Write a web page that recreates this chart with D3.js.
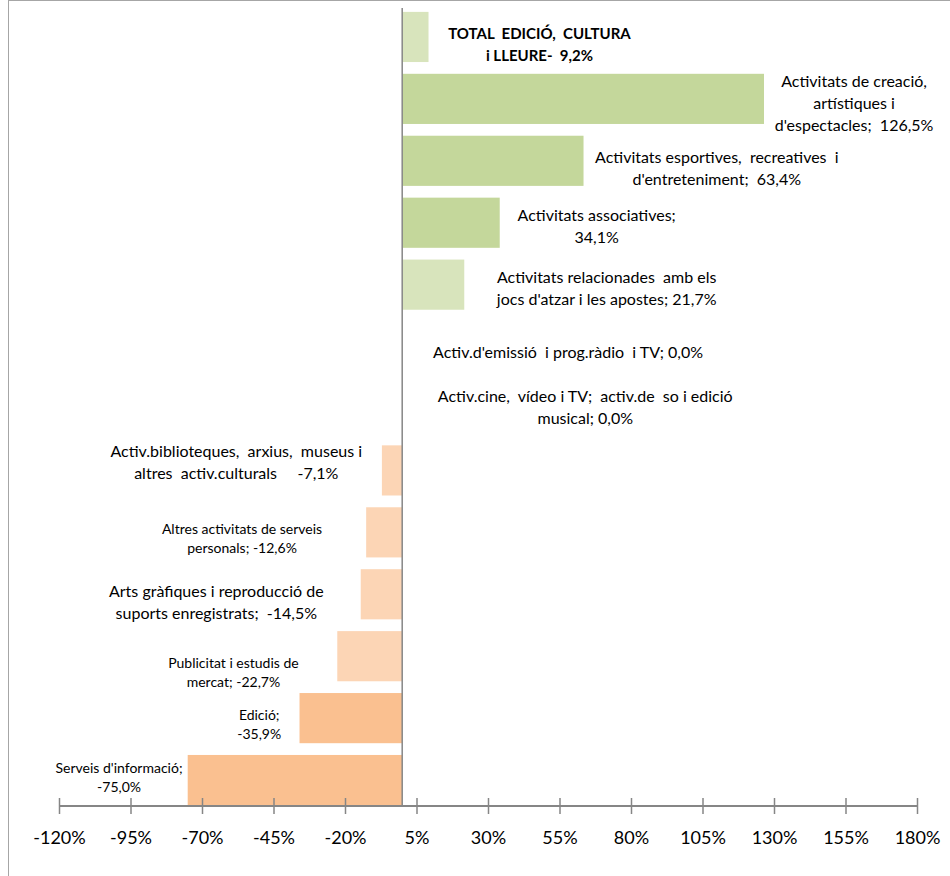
<!DOCTYPE html>
<html lang="ca">
<head>
<meta charset="UTF-8">
<script src="https://cdn.jsdelivr.net/npm/d3@7"></script>
<style>
    body { margin: 0; background: white; }
    text { font-family: Lato, "Noto Sans", sans-serif; fill: #000; }
</style>
</head>
<body>
<div id="chart"></div>
<script>
    // ---------- data ----------
    const categories = [
        "TOTAL EDICIÓ, CULTURA i LLEURE",
        "Activitats de creació, artístiques i d'espectacles",
        "Activitats esportives, recreatives i d'entreteniment",
        "Activitats associatives",
        "Activitats relacionades amb els jocs d'atzar i les apostes",
        "Activ.d'emissió i prog.ràdio i TV",
        "Activ.cine, vídeo i TV; activ.de so i edició musical",
        "Activ.biblioteques, arxius, museus i altres activ.culturals",
        "Altres activitats de serveis personals",
        "Arts gràfiques i reproducció de suports enregistrats",
        "Publicitat i estudis de mercat",
        "Edició",
        "Serveis d'informació"
    ];
    const values = [9.2, 126.5, 63.4, 34.1, 21.7, 0.0, 0.0, -7.1, -12.6, -14.5, -22.7, -35.9, -75.0];
    // label text as shown on the chart, one entry per line
    const labelLines = [
        ["TOTAL  EDICIÓ,  CULTURA", "i LLEURE-  9,2%"],
        ["Activitats de creació,", "artístiques i", "d'espectacles;  126,5%"],
        ["Activitats esportives,  recreatives  i", "d'entreteniment;  63,4%"],
        ["Activitats associatives;", "34,1%"],
        ["Activitats relacionades  amb els", "jocs d'atzar i les apostes; 21,7%"],
        ["Activ.d'emissió  i prog.ràdio  i TV; 0,0%"],
        ["Activ.cine,  vídeo i TV;  activ.de  so i edició", "musical; 0,0%"],
        ["Activ.biblioteques,  arxius,  museus i", "altres  activ.culturals     -7,1%"],
        ["Altres activitats de serveis", "personals; -12,6%"],
        ["Arts gràfiques i reproducció de", "suports enregistrats;  -14,5%"],
        ["Publicitat i estudis de", "mercat; -22,7%"],
        ["Edició;", "-35,9%"],
        ["Serveis d'informació;", "-75,0%"]
    ];
    const tickValues = [-120, -95, -70, -45, -20, 5, 30, 55, 80, 105, 130, 155, 180];

    // ---------- layout (label placement, in axis units / pixels) ----------
    const labelCenter = [48, 158, 110, 68, 71.5, 58, 64, -58, -56, -65, -59, -50, -99];
    const labelShift = [8, 5, 8, 4, 4, 6, -1, -8, 6, 8, 16, 6, -2];
    const labelSize = [15, 16, 16, 16, 16, 16, 16, 16, 14, 16, 14, 14, 14];
    const barColor = ["#d8e4bc", "#c4d79b", "#c4d79b", "#c4d79b", "#d8e4bc", "#d8e4bc", "#d8e4bc",
                      "#fcd5b5", "#fcd5b5", "#fcd5b5", "#fcd5b5", "#fac090", "#fac090"];

    const width = 950, height = 876;
    const svg = d3.select("#chart").append("svg")
        .attr("width", width)
        .attr("height", height);

    const x = d3.scaleLinear()
        .domain([-120, 180])
        .range([59, 917]);

    const y = d3.scaleBand()
        .domain(categories)
        .range([6, 811])
        .paddingInner(0.19)
        .paddingOuter(0.095);

    const axisY = 806;
    const grey = "#868686";

    // chart frame (left and top edges visible)
    svg.append("rect")
        .attr("x", 8.5).attr("y", 0.5)
        .attr("width", 1000).attr("height", 1000)
        .attr("fill", "none")
        .attr("stroke", "#a6a6a6");

    // bars
    svg.selectAll("rect.bar")
        .data(values)
        .enter()
        .append("rect")
        .attr("class", "bar")
        .attr("x", d => x(Math.min(0, d)))
        .attr("y", (d, i) => y(categories[i]))
        .attr("width", d => Math.abs(x(d) - x(0)))
        .attr("height", y.bandwidth())
        .attr("fill", (d, i) => barColor[i]);

    // zero line
    svg.append("line")
        .attr("x1", x(0)).attr("x2", x(0))
        .attr("y1", 8).attr("y2", axisY)
        .attr("stroke", grey)
        .attr("stroke-width", 1.5);

    // x axis
    const axis = d3.axisBottom(x)
        .tickValues(tickValues)
        .tickSize(16)
        .tickFormat(d => d + "%");
    const gAxis = svg.append("g")
        .attr("transform", `translate(0,${axisY - 8})`)
        .call(axis);
    gAxis.select(".domain").remove();
    gAxis.selectAll(".tick line").attr("stroke", grey).attr("stroke-width", 1.5);
    gAxis.selectAll(".tick text")
        .attr("y", 40)
        .attr("dy", "0.35em")
        .style("font-family", "Lato, 'Noto Sans', sans-serif")
        .style("font-size", "18px")
        .attr("fill", "#000");
    svg.append("line")
        .attr("x1", x(-120)).attr("x2", x(180))
        .attr("y1", axisY).attr("y2", axisY)
        .attr("stroke", grey)
        .attr("stroke-width", 2);

    // data labels
    const lineGap = 22;
    categories.forEach((c, i) => {
        const lines = labelLines[i];
        const size = labelSize[i];
        const gap = size < 15 ? 19 : lineGap;
        const cy = y(c) + y.bandwidth() / 2 + labelShift[i];
        const t = svg.append("text")
            .attr("text-anchor", "middle")
            .style("font-size", size + "px")
            .style("font-weight", i === 0 ? "bold" : "normal")
            .style("white-space", "pre");
        lines.forEach((ln, k) => {
            t.append("tspan")
                .attr("x", x(labelCenter[i]))
                .attr("y", cy + (k - (lines.length - 1) / 2) * gap)
                .attr("dy", "0.35em")
                .text(ln);
        });
    });
</script>
</body>
</html>
